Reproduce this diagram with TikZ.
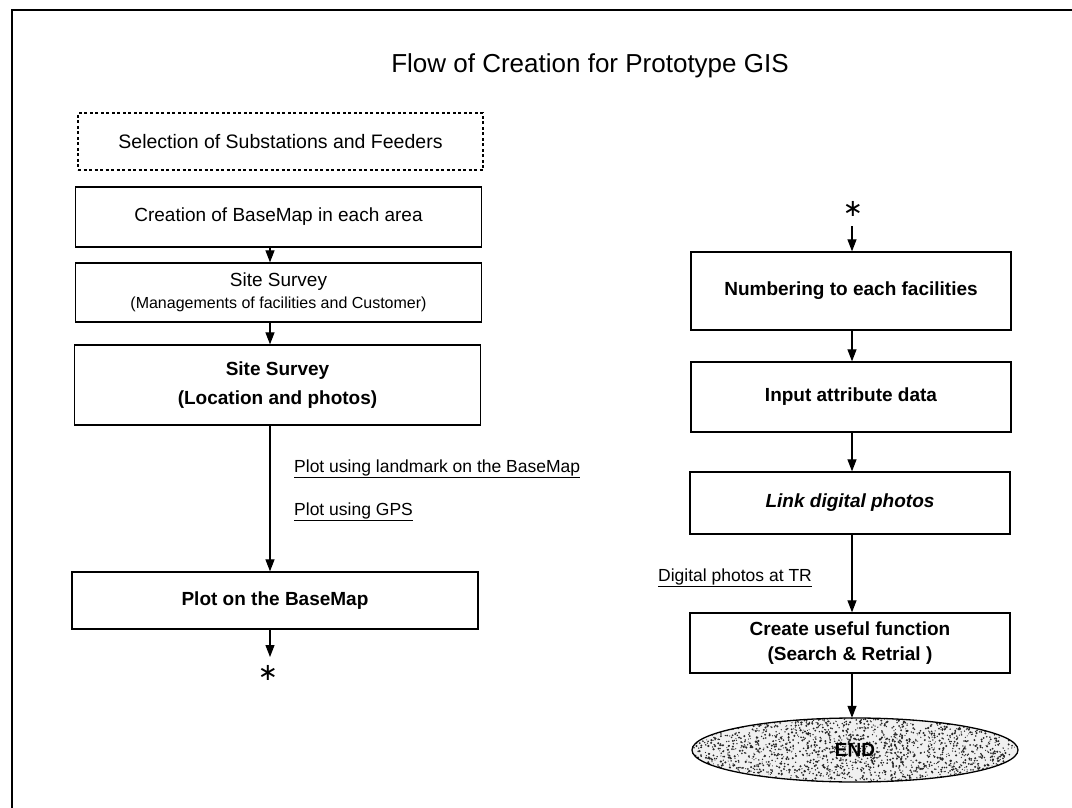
\documentclass[tikz,border=0pt]{standalone}
\usepackage{fontspec}
\setmainfont{Liberation Sans}
\newfontfamily\symfont{DejaVu Sans}
\usetikzlibrary{arrows.meta,shapes.geometric}

\tikzset{
  frameline/.style={line width=1.5pt},
  stepbox/.style={draw,line width=1.3pt,inner sep=0pt,align=center,
    minimum width=406pt,font=\fontsize{19}{24}\selectfont},
  rightbox/.style={stepbox,minimum width=320pt},
  selbox/.style={stepbox,dashed,dash pattern=on 3pt off 2.5pt,line width=1.2pt},
  flow/.style={line width=1.2pt,-{Triangle[width=9pt,length=12pt]}},
  note/.style={inner sep=0pt,font=\fontsize{17.5}{21}\selectfont},
  star/.style={inner sep=0pt,font=\symfont\fontsize{24}{24}\selectfont},
}

\begin{document}
\begin{tikzpicture}[x=1pt,y=-1pt]
\useasboundingbox (0,0) rectangle (1072,808);

% frame (only the top and left edges are drawn)
\coordinate (fTL) at (12,10);
\coordinate (fTR) at (1072,10);
\coordinate (fBL) at (12,808);
\draw[frameline] (fTR) -- (fTL) -- (fBL);

% title
\node[inner sep=0pt,font=\fontsize{26}{30}\selectfont] (title) at (590,66)
  {Flow of Creation for Prototype GIS};

% left column
\coordinate (colL) at (270,0);
\node[selbox,minimum height=57pt,minimum width=405pt,font=\fontsize{19.5}{24}\selectfont] (sel) at (280.5,141.5)
  {Selection of Substations and Feeders};
\node[stepbox,minimum height=60pt] (base) at (278.5,217)
  {Creation of BaseMap in each area};
\node[stepbox,minimum height=59pt] (ss1) at (278.5,292.5)
  {Site Survey\\[-2pt]{\fontsize{16}{19}\selectfont (Managements of facilities and Customer)}};
\node[stepbox,minimum height=80pt,font=\bfseries\fontsize{19}{29}\selectfont] (ss2) at (277.5,385)
  {Site Survey\\(Location and photos)};
\node[stepbox,minimum height=57pt,font=\bfseries\fontsize{19}{24}\selectfont] (plot) at (275,600.5)
  {Plot on the BaseMap};
\node[star] (starL) at (268,673) {∗};

\node[note,anchor=west] (lmk) at (294,469) {\underline{Plot using landmark on the BaseMap}};
\node[note,anchor=west] (gps) at (294,512) {\underline{Plot using GPS}};

\draw[flow] (base.south -| colL) -- (ss1.north -| colL);
\draw[flow] (ss1.south -| colL) -- (ss2.north -| colL);
\draw[flow] (ss2.south -| colL) -- (plot.north -| colL);
\draw[flow] (plot.south -| colL) -- ([yshift=16pt]starL.center -| colL);

% right column
\coordinate (colR) at (852,0);
\node[star] (starR) at (853,209) {∗};
\node[rightbox,minimum height=78pt,font=\bfseries\fontsize{19}{24}\selectfont] (num) at (851,291)
  {Numbering to each facilities};
\node[rightbox,minimum height=70pt,font=\bfseries\fontsize{19}{24}\selectfont] (inp) at (851,397)
  {Input attribute data};
\node[rightbox,minimum height=62pt,font=\bfseries\itshape\fontsize{19}{24}\selectfont] (link) at (850,503)
  {Link digital photos};
\node[rightbox,minimum height=60pt,font=\bfseries\fontsize{19}{25}\selectfont] (cre) at (850,643)
  {Create useful function\\(Search \& Retrial )};
\node[note,anchor=west] (dtr) at (658,578) {\underline{Digital photos at TR}};

% speckled end marker
\node[ellipse,minimum width=326pt,minimum height=64pt,inner sep=0pt] (endn) at (855,750) {};
\begin{scope}
  \clip (endn.center) ellipse [x radius=163pt,y radius=32pt];
  \fill[gray!12] (endn.center) ellipse [x radius=163pt,y radius=32pt];
  \pgfmathsetseed{4711}
  \foreach \i in {1,...,2200}{
    \fill[black!85] ({855+166*rand},{750+34*rand}) circle [radius={0.85pt+0.35pt*rand}];
  }
\end{scope}
\draw[line width=1.3pt] (endn.center) ellipse [x radius=163pt,y radius=32pt];
\node[inner sep=1pt,font=\bfseries\fontsize{19}{24}\selectfont] (endt) at (endn.center) {END};

\draw[flow] ([yshift=-17pt]starR.center -| colR) -- (num.north -| colR);
\draw[flow] (num.south -| colR) -- (inp.north -| colR);
\draw[flow] (inp.south -| colR) -- (link.north -| colR);
\draw[flow] (link.south -| colR) -- (cre.north -| colR);
\draw[flow] (cre.south -| colR) -- (endn.north -| colR);
\end{tikzpicture}
\end{document}
